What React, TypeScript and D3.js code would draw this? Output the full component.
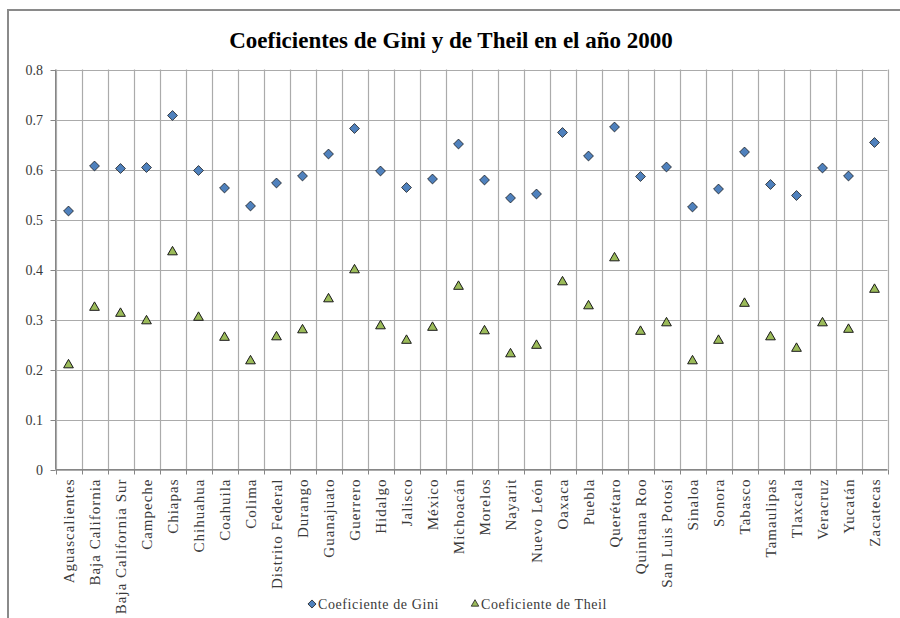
import React from "react";
import * as d3 from "d3";

const categories = [
  "Aguascalientes", "Baja California", "Baja California Sur", "Campeche", "Chiapas",
  "Chihuahua", "Coahuila", "Colima", "Distrito Federal", "Durango", "Guanajuato",
  "Guerrero", "Hidalgo", "Jalisco", "México", "Michoacán", "Morelos", "Nayarit",
  "Nuevo León", "Oaxaca", "Puebla", "Querétaro", "Quintana Roo", "San Luis Potosí",
  "Sinaloa", "Sonora", "Tabasco", "Tamaulipas", "Tlaxcala", "Veracruz", "Yucatán", "Zacatecas",
];

const giniValues = [
  0.517, 0.607, 0.602, 0.604, 0.708, 0.598, 0.563, 0.527, 0.573, 0.587, 0.631,
  0.682, 0.597, 0.564, 0.581, 0.651, 0.579, 0.543, 0.551, 0.674, 0.627, 0.685,
  0.586, 0.605, 0.525, 0.561, 0.635, 0.570, 0.548, 0.603, 0.587, 0.654,
];

const theilValues = [
  0.209, 0.324, 0.312, 0.297, 0.435, 0.304, 0.264, 0.217, 0.265, 0.279, 0.341,
  0.399, 0.287, 0.258, 0.284, 0.366, 0.277, 0.231, 0.248, 0.375, 0.327, 0.423,
  0.276, 0.293, 0.217, 0.258, 0.332, 0.265, 0.242, 0.293, 0.280, 0.360,
];

const yTicks = [0, 0.1, 0.2, 0.3, 0.4, 0.5, 0.6, 0.7, 0.8];
const yTickLabels = ["0", "0.1", "0.2", "0.3", "0.4", "0.5", "0.6", "0.7", "0.8"];

const title = "Coeficientes de Gini y de Theil en el año 2000";
const seriesNames = ["Coeficiente de Gini", "Coeficiente de Theil"];

const FONT = "'Liberation Serif', 'Times New Roman', serif";

export default function App() {
  const left = 55.5;
  const right = 887.5;
  const top = 69.5;
  const bottom = 469.5;

  const x = d3.scaleBand<string>().domain(categories).range([left, right]).paddingInner(0).paddingOuter(0);
  const y = d3.scaleLinear().domain([0, 0.8]).range([bottom, top]);

  const diamond = d3.symbol().type(d3.symbolDiamond2).size(62)();
  const triangle = d3.symbol().type(d3.symbolTriangle2).size(68)();

  const bw = x.bandwidth();
  const boundaries = categories.map((c) => x(c)!).concat([right]);

  return (
    <svg width={900} height={618} style={{ position: "absolute", left: 0, top: 0, background: "#fff" }}>
      <rect x={0} y={0} width={900} height={618} fill="#fff" />
      {/* frame */}
      <line x1={8} y1={10} x2={900} y2={10} stroke="#8a8a8a" strokeWidth={2} />
      <line x1={8} y1={9} x2={8} y2={618} stroke="#8a8a8a" strokeWidth={2} />

      <text x={451} y={48} textAnchor="middle" fontFamily={FONT} fontWeight="bold" fontSize={23} fill="#000">
        {title}
      </text>

      {/* horizontal gridlines */}
      {yTicks.map((t) => (
        <line key={"h" + t} x1={left} x2={right} y1={Math.round(y(t)) + 0.5} y2={Math.round(y(t)) + 0.5} stroke="#ababab" strokeWidth={1.2} />
      ))}
      {/* vertical gridlines */}
      {boundaries.map((b, i) => (
        <line key={"v" + i} x1={Math.round(b) + 0.5} x2={Math.round(b) + 0.5} y1={top} y2={bottom} stroke="#ababab" strokeWidth={1.2} />
      ))}
      {/* axes */}
      <line x1={left} x2={left} y1={top} y2={bottom} stroke="#868686" strokeWidth={1} />
      <line x1={left} x2={right} y1={bottom} y2={bottom} stroke="#868686" strokeWidth={1} />
      {yTicks.map((t) => (
        <line key={"yt" + t} x1={left - 5} x2={left} y1={Math.round(y(t)) + 0.5} y2={Math.round(y(t)) + 0.5} stroke="#868686" />
      ))}
      {boundaries.map((b, i) => (
        <line key={"xt" + i} x1={Math.round(b) + 0.5} x2={Math.round(b) + 0.5} y1={bottom} y2={bottom + 5} stroke="#868686" />
      ))}

      {yTicks.map((t, i) => (
        <text key={"yl" + t} x={43} y={y(t) + 5} textAnchor="end" fontFamily={FONT} fontSize={14} fill="#3a3a3a">
          {yTickLabels[i]}
        </text>
      ))}

      {categories.map((c) => {
        const cx = x(c)! + bw / 2;
        return (
          <text key={"xl" + c} transform={`translate(${cx + 5},${bottom + 9}) rotate(-90)`} textAnchor="end"
            fontFamily={FONT} fontSize={15} letterSpacing={1} fill="#3a3a3a">
            {c}
          </text>
        );
      })}

      {categories.map((c, i) => (
        <path key={"t" + c} d={triangle!} transform={`translate(${x(c)! + bw / 2},${y(theilValues[i])})`}
          fill="#9bbb59" stroke="#1a1a1a" strokeWidth={1} />
      ))}
      {categories.map((c, i) => (
        <path key={"g" + c} d={diamond!} transform={`translate(${x(c)! + bw / 2},${y(giniValues[i])})`}
          fill="#4f81bd" stroke="#1a1a1a" strokeWidth={0.8} />
      ))}

      {/* legend */}
      <path d={d3.symbol().type(d3.symbolDiamond2).size(42)()!} transform="translate(312,604)" fill="#4f81bd" stroke="#1a1a1a" strokeWidth={0.8} />
      <text x={318} y={609} fontFamily={FONT} fontSize={14} letterSpacing={0.6} fill="#3a3a3a">{seriesNames[0]}</text>
      <path d={d3.symbol().type(d3.symbolTriangle2).size(40)()!} transform="translate(475,604)" fill="#9bbb59" stroke="#1a1a1a" strokeWidth={0.8} />
      <text x={481} y={609} fontFamily={FONT} fontSize={14} letterSpacing={0.6} fill="#3a3a3a">{seriesNames[1]}</text>
    </svg>
  );
}
